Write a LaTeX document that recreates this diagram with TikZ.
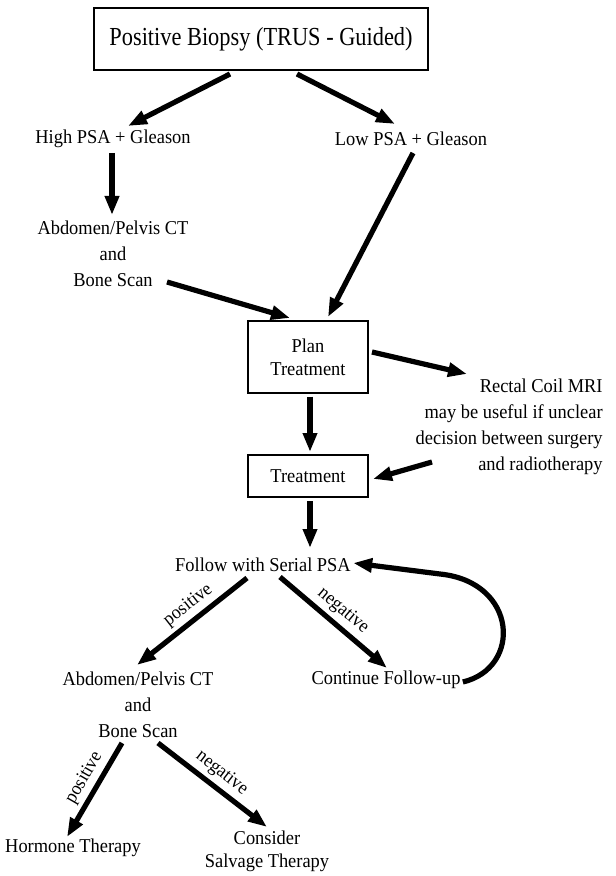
\documentclass[tikz,border=0pt]{standalone}
\usepackage{fontspec}
\setmainfont{Liberation Serif}[FakeStretch=0.94]
\newfontfamily\titlefont{Liberation Serif}[FakeStretch=0.86]
\usetikzlibrary{arrows.meta,calc}
\begin{document}
\begin{tikzpicture}[x=0.5pt,y=-0.5pt,
  txt/.style={font=\fontsize{9.8}{13}\selectfont, align=center, inner sep=0pt},
  lab/.style={font=\fontsize{9.5}{11}\selectfont, inner sep=2pt, anchor=south},
  boxnode/.style={draw, line width=1pt, align=center, inner sep=0pt, font=\fontsize{9.8}{11.5}\selectfont},
  arr/.style={line width=2.6pt, -{Triangle[length=9.5pt,width=6.8pt]}}]
\useasboundingbox (0,0) rectangle (615,876);
\node[boxnode, minimum width=167pt, minimum height=31pt, font=\titlefont\fontsize{13}{15}\selectfont] (title) at (261,39) {Positive Biopsy (TRUS - Guided)};
\node[txt] (high) at (113,139) {High PSA + Gleason};
\node[txt] (low) at (411,139) {Low PSA + Gleason};
\node[txt] (abd1) at (113,254) {Abdomen/Pelvis CT\\and\\Bone Scan};
\node[boxnode, minimum width=60pt, minimum height=35.5pt] (plan) at (308,357) {Plan\\Treatment};
\node[txt, align=right, anchor=east] (mri) at (603,427) {Rectal Coil MRI\\may be useful if unclear\\decision between surgery\\and radiotherapy};
\node[boxnode, minimum width=60pt, minimum height=21pt] (treat) at (308,476) {Treatment};
\node[txt] (follow) at (263,565) {Follow with Serial PSA};
\node[txt] (abd2) at (138,705) {Abdomen/Pelvis CT\\and\\Bone Scan};
\node[txt] (cont) at (386,680) {Continue Follow-up};
\node[txt] (horm) at (73,848) {Hormone Therapy};
\node[txt, font=\fontsize{9.8}{11.5}\selectfont] (cons) at (267,851) {Consider\\Salvage Therapy};

\draw[arr] ($(title.south)+(-31,3)$) -- ($(high)+(15,-13)$);
\draw[arr] ($(title.south)+(36,3)$) -- ($(low)+(-16,-15)$);
\draw[arr] ($(high)+(-1,14)$) -- ($(abd1)+(-1,-39)$);
\draw[arr] ($(abd1)+(54,28)$) -- ($(plan)+(-18,-39)$);
\draw[arr] ($(low)+(2,14)$) -- ($(plan)+(20,-40)$);
\draw[arr] ($(plan)+(64,-5)$) -- ($(mri.east)+(-136,-53)$);
\draw[arr] ($(plan.south)+(2,3)$) -- ($(treat.north)+(2,-2)$);
\draw[arr] ($(mri.east)+(-171,35)$) -- ($(treat.east)+(4,3)$);
\draw[arr] ($(treat.south)+(2,3)$) -- ($(follow)+(47,-17)$);
\draw[arr] ($(follow)+(-16,13)$) -- node[lab, rotate=38, pos=0.45] {positive} ($(abd2)+(-1,-40)$);
\draw[arr] ($(follow)+(17,12)$) -- node[lab, rotate=-40, pos=0.5] {negative} ($(cont)+(1,-12)$);
\draw[arr] ($(cont.east)+(2,2)$) .. controls (522,668) and (518,582) .. (440,574) -- ($(follow.east)+(2,-2)$);
\draw[arr] ($(abd2)+(-16,38)$) -- node[lab, rotate=60, pos=0.45] {positive} ($(horm)+(-6,-11)$);
\draw[arr] ($(abd2)+(20,38)$) -- node[lab, rotate=-38, pos=0.5] {negative} ($(cons)+(0,-24)$);
\end{tikzpicture}
\end{document}
